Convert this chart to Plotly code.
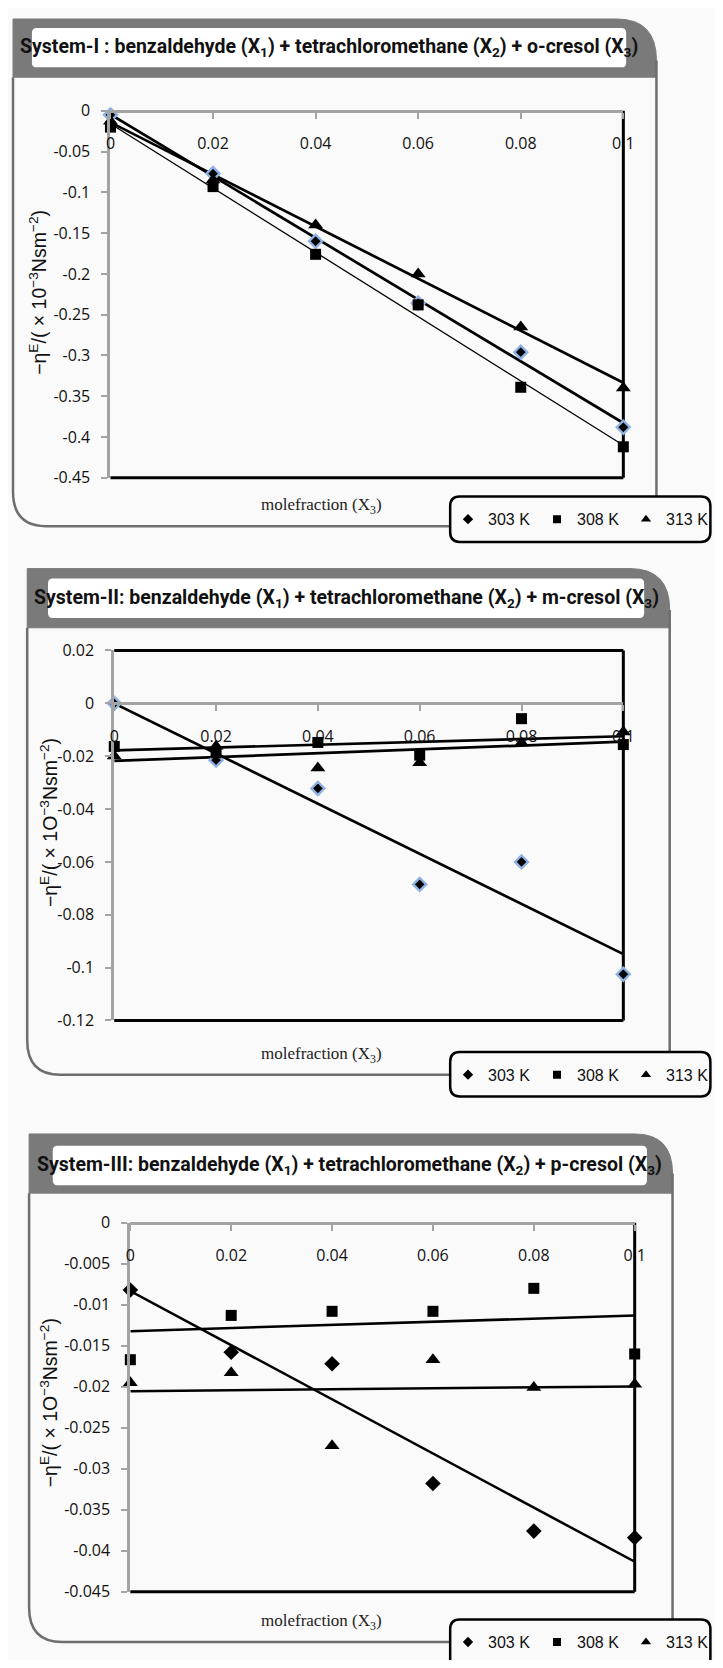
import numpy as np
import plotly.graph_objects as go

# page is 723x1668; the browser body keeps its default 8px margin,
# so the figure itself is 707x1652 and every pixel position is offset by 8
PAGE_W, PAGE_H, OFF = 723, 1668, 8
W, H = PAGE_W - 2 * OFF, PAGE_H - 2 * OFF

# ---------------- data ----------------
x_frac = [0, 0.02, 0.04, 0.06, 0.08, 0.1]
x_ticktext = ["0", "0.02", "0.04", "0.06", "0.08", "0.1"]
series_names = ["303 K", "308 K", "313 K"]

sys1_303 = [-0.005, -0.077, -0.160, -0.236, -0.296, -0.388]
sys1_308 = [-0.020, -0.093, -0.176, -0.238, -0.339, -0.412]
sys1_313 = [-0.013, -0.085, -0.140, -0.200, -0.265, -0.340]

sys2_303 = [0.0, -0.0215, -0.0322, -0.0685, -0.0600, -0.1025]
sys2_308 = [-0.0163, -0.0187, -0.0148, -0.0196, -0.0058, -0.0156]
sys2_313 = [-0.0199, -0.0162, -0.0245, -0.0225, -0.0150, -0.0108]

sys3_303 = [-0.0082, -0.0158, -0.0172, -0.0318, -0.0376, -0.0384]
sys3_308 = [-0.0167, -0.0113, -0.0108, -0.0108, -0.0080, -0.0160]
sys3_313 = [-0.0195, -0.0183, -0.0272, -0.0167, -0.0201, -0.0197]

y1_tickvals = [0, -0.05, -0.1, -0.15, -0.2, -0.25, -0.3, -0.35, -0.4, -0.45]
y1_ticktext = ["0", "-0.05", "-0.1", "-0.15", "-0.2", "-0.25", "-0.3", "-0.35", "-0.4", "-0.45"]
y2_tickvals = [0.02, 0, -0.02, -0.04, -0.06, -0.08, -0.1, -0.12]
y2_ticktext = ["0.02", "0", "-0.02", "-0.04", "-0.06", "-0.08", "-0.1", "-0.12"]
y3_tickvals = [0, -0.005, -0.01, -0.015, -0.02, -0.025, -0.03, -0.035, -0.04, -0.045]
y3_ticktext = ["0", "-0.005", "-0.01", "-0.015", "-0.02", "-0.025", "-0.03", "-0.035", "-0.04", "-0.045"]

titles = [
    "System-I : benzaldehyde (X<sub>1</sub>) + tetrachloromethane (X<sub>2</sub>) + o-cresol (X<sub>3</sub>)",
    "System-II: benzaldehyde (X<sub>1</sub>) + tetrachloromethane (X<sub>2</sub>) + m-cresol (X<sub>3</sub>)",
    "System-III: benzaldehyde (X<sub>1</sub>) + tetrachloromethane (X<sub>2</sub>) + p-cresol (X<sub>3</sub>)",
]
y_titles = [
    "−η<sup>E</sup>/( × 10<sup>−3</sup>Nsm<sup>−2</sup>)",
    "−η<sup>E</sup>/( × 1O<sup>−3</sup>Nsm<sup>−2</sup>)",
    "−η<sup>E</sup>/( × 1O<sup>−3</sup>Nsm<sup>−2</sup>)",
]
x_title = "molefraction (X<sub>3</sub>)"

# ---------------- layout geometry (page pixels) ----------------
panels = [
    dict(series=[sys1_303, sys1_308, sys1_313], yvals=y1_tickvals, ytext=y1_ticktext, yrange=[-0.45, 0],
         frame=(8, 688, 8, 67, 522), R=42, box=(28, 656, 17, 57), leg=(470, 492, 538),
         plot=(111, 653, 101, 473), ytitle=(35, 285), xtitle_y=502, leg_y=515,
         lw=[2.7, 1.3, 2.7], border_top=False, outline303=True),
    dict(series=[sys2_303, sys2_308, sys2_313], yvals=y2_tickvals, ytext=y2_ticktext, yrange=[-0.12, 0.02],
         frame=(23, 702, 565, 625, 1078), R=42, box=(45, 675, 575, 615), leg=(470, 1055, 1100),
         plot=(115, 653, 648, 1023), ytitle=(46, 822), xtitle_y=1058, leg_y=1078,
         lw=[2.7, 2.7, 2.7], border_top=True, outline303=True),
    dict(series=[sys3_303, sys3_308, sys3_313], yvals=y3_tickvals, ytext=y3_ticktext, yrange=[-0.045, 0],
         frame=(25, 705, 1138, 1198, 1653), R=40, box=(50, 678, 1150, 1190), leg=(470, 1630, 1690),
         plot=(132, 665, 1228, 1602), ytitle=(46, 1410), xtitle_y=1633, leg_y=1653,
         lw=[2.5, 2.5, 2.5], border_top=False, outline303=False),
]


def X(v):
    return (v - OFF) / W


def Y(v):
    return 1 - (v - OFF) / H


def pt(x, y):
    return f"{X(x):.6f},{Y(y):.6f}"


def rrect(l, r, t, b, rad):
    return (f"M {pt(l + rad, t)} L {pt(r - rad, t)} Q {pt(r, t)} {pt(r, t + rad)} "
            f"L {pt(r, b - rad)} Q {pt(r, b)} {pt(r - rad, b)} L {pt(l + rad, b)} "
            f"Q {pt(l, b)} {pt(l, b - rad)} L {pt(l, t + rad)} Q {pt(l, t)} {pt(l + rad, t)} Z")


HEAD = "#7a7a7a"
FRAME = "#6e6e6e"
AXGRAY = "#a3a3a3"
BG = "#fafafa"
symbols = ["diamond", "square", "triangle-up"]
tickfont = dict(family="Open Sans, Segoe UI, sans-serif", size=16, color="#111")

fig = go.Figure()
shapes, annotations, lay = [], [], {}

for i, p in enumerate(panels):
    n = "" if i == 0 else str(i + 1)
    xa, ya = "x" + n, "y" + n
    l, r, t, b = p["plot"]
    ymin, ymax = p["yrange"]
    zero_px = t + (ymax - 0) / (ymax - ymin) * (b - t)

    lay["xaxis" + n] = dict(domain=[X(l), X(r)], range=[0, 0.1], anchor="free", position=Y(zero_px),
                            side="bottom", showline=True, linecolor=AXGRAY, linewidth=3,
                            ticks="outside", ticklen=6, tickwidth=2, tickcolor=AXGRAY,
                            tickvals=x_frac, ticktext=x_ticktext, tickfont=tickfont,
                            ticklabelstandoff=11, showgrid=False, zeroline=False, fixedrange=True)
    lay["yaxis" + n] = dict(domain=[Y(b), Y(t)], range=[ymin, ymax], anchor=xa, side="left",
                            showline=True, linecolor=AXGRAY, linewidth=3,
                            ticks="outside", ticklen=6, tickwidth=2, tickcolor=AXGRAY,
                            tickvals=p["yvals"], ticktext=p["ytext"], tickfont=tickfont,
                            ticklabelstandoff=8, showgrid=False, zeroline=False, fixedrange=True)

    # plot-area border (black) on right, bottom (and top for panel 2)
    border = [(1, 0, 1, 1), (0, 0, 1, 0)]
    if p["border_top"]:
        border.append((0, 1, 1, 1))
    for (x0, y0, x1, y1) in border:
        shapes.append(dict(type="line", xref=xa + " domain", yref=ya + " domain", x0=x0, y0=y0, x1=x1, y1=y1,
                           line=dict(color="black", width=3), layer="below"))

    # frame
    fl, fr, ft, fhb, fb = p["frame"]
    R = p["R"]
    ll, lt, lb = p["leg"]
    shapes.append(dict(type="path", xref="paper", yref="paper",
                       path=f"M {pt(fl, fhb)} L {pt(fl, ft)} L {pt(fr - R, ft)} Q {pt(fr, ft)} {pt(fr, ft + R)} L {pt(fr, fhb)} Z",
                       fillcolor=HEAD, line=dict(color=HEAD, width=1), layer="below"))
    R2 = 35
    shapes.append(dict(type="path", xref="paper", yref="paper",
                       path=(f"M {pt(fr, ft + R)} L {pt(fr, lt)} "
                             f"M {pt(fl, fhb)} L {pt(fl, fb - R2)} Q {pt(fl, fb)} {pt(fl + R2, fb)} L {pt(ll, fb)}"),
                       fillcolor="rgba(0,0,0,0)", line=dict(color=FRAME, width=2.5), layer="below"))
    bl, br, bt, bb = p["box"]
    shapes.append(dict(type="path", xref="paper", yref="paper", path=rrect(bl, br, bt, bb, 5),
                       fillcolor="white", line=dict(width=0), layer="below"))
    shapes.append(dict(type="path", xref="paper", yref="paper", path=rrect(ll, 745, lt, lb, 10),
                       fillcolor=BG, line=dict(color="black", width=2.5), layer="below"))

    # trendlines (least-squares fit of each series)
    for k, s in enumerate(p["series"]):
        coef = np.polyfit(x_frac, s, 1)
        xs = [0, 0.1]
        fig.add_trace(go.Scatter(x=xs, y=np.polyval(coef, xs).tolist(), mode="lines",
                                 line=dict(color="black", width=p["lw"][k]), xaxis=xa, yaxis=ya,
                                 showlegend=False, hoverinfo="skip", cliponaxis=False))
    # markers
    for k, s in enumerate(p["series"]):
        if k == 0 and p["outline303"]:
            mk = dict(symbol="diamond", size=10, color="black", line=dict(color="#8fb1e3", width=2.4))
        elif k == 0:
            mk = dict(symbol="diamond", size=12, color="black")
        elif k == 1:
            mk = dict(symbol="square", size=11, color="black")
        else:
            mk = dict(symbol="triangle-up", size=13, color="black")
        fig.add_trace(go.Scatter(x=x_frac, y=s, mode="markers", marker=mk, name=series_names[k],
                                 xaxis=xa, yaxis=ya, showlegend=False, cliponaxis=False))
    # legend entries
    for k in range(3):
        fig.add_trace(go.Scatter(x=[None], y=[None], mode="markers", name=series_names[k],
                                 marker=dict(symbol=symbols[k], size=[8, 8, 9][k], color="black"),
                                 xaxis=xa, yaxis=ya, legend="legend" + n, showlegend=True, hoverinfo="skip"))
    lay["legend" + n] = dict(x=X(468), y=Y(p["leg_y"]), xanchor="left", yanchor="middle", orientation="h",
                             entrywidth=44, bgcolor="rgba(0,0,0,0)", borderwidth=0, itemclick=False,
                             itemdoubleclick=False,
                             font=dict(family="Liberation Sans, Arial, sans-serif", size=16, color="#111"))

    # texts
    annotations.append(dict(xref="paper", yref="paper", x=X((bl + br) / 2), y=Y((bt + bb) / 2),
                            text=titles[i], showarrow=False, xanchor="center", yanchor="middle",
                            font=dict(family="Roboto, Liberation Sans, sans-serif",
                                      size=19.5, color="#111", weight="bold")))
    annotations.append(dict(xref="paper", yref="paper", x=X(p["ytitle"][0]), y=Y(p["ytitle"][1]),
                            text=y_titles[i], showarrow=False, textangle=-90, xanchor="center", yanchor="middle",
                            font=dict(family="Liberation Sans, Arial, sans-serif", size=19.5, color="#111")))
    annotations.append(dict(xref="paper", yref="paper", x=X(334), y=Y(p["xtitle_y"]),
                            text=x_title, showarrow=False, xanchor="center", yanchor="middle",
                            font=dict(family="Liberation Serif, Times New Roman, serif", size=17, color="#222")))

fig.update_layout(width=W, height=H, margin=dict(l=0, r=0, t=0, b=0), autosize=False,
                  paper_bgcolor=BG, plot_bgcolor=BG, shapes=shapes, annotations=annotations,
                  hovermode=False, **lay)

fig.write_html("out.html", config={"displayModeBar": False, "staticPlot": True})
